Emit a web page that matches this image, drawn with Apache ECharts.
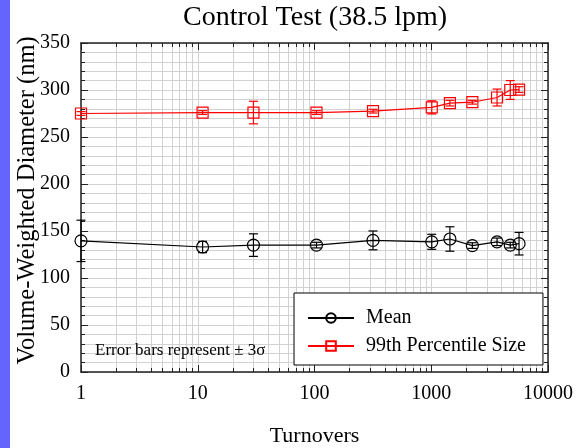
<!DOCTYPE html>
<html>
<head>
<meta charset="utf-8">
<script src="https://cdn.jsdelivr.net/npm/echarts@6/dist/echarts.min.js"></script>
<style>
  html, body { margin: 0; padding: 0; background: #fff; }
  #chart { width: 577px; height: 448px; }
</style>
</head>
<body>
<div id="chart"></div>
<script>
// values
const turnovers = [1, 11, 30, 104, 317, 1010, 1445, 2250, 3660, 4750, 5650];
const meanSize = [139.5, 133, 135, 135, 140, 138.5, 141.5, 134.5, 138.5, 135, 136.5];
const meanErr = [22, 6, 12, 3, 10, 8, 13, 3, 4, 3, 12];
const p99Size = [275, 276, 276, 276, 277.5, 281.5, 286, 287, 292, 300, 300.5];
const p99Err = [2, 2, 12, 2, 2, 7, 3, 2, 9, 10, 3];
const xTicks = [1, 10, 100, 1000, 10000];

const FONT = "Liberation Serif";

const chart = echarts.init(document.getElementById("chart"));

function pairs(ys) {
    return turnovers.map((t, i) => [t, ys[i]]);
}
function errRows(ys, es) {
    return turnovers.map((t, i) => [t, ys[i] - es[i], ys[i] + es[i]]);
}

// error bar drawn through the axis scales
function errorBar(color) {
    return function (params, api) {
        const x = api.value(0);
        const lo = api.coord([x, api.value(1)]);
        const hi = api.coord([x, api.value(2)]);
        const w = 4.5;
        const style = { stroke: color, lineWidth: 1.2 };
        return {
            type: "group",
            children: [
                { type: "line", shape: { x1: lo[0], y1: lo[1], x2: hi[0], y2: hi[1] }, style: style },
                { type: "line", shape: { x1: lo[0] - w, y1: lo[1], x2: lo[0] + w, y2: lo[1] }, style: style },
                { type: "line", shape: { x1: hi[0] - w, y1: hi[1], x2: hi[0] + w, y2: hi[1] }, style: style }
            ]
        };
    };
}

const gridLine = { show: true, lineStyle: { color: "#d2d2d2", width: 1 } };

function xAxisDef(pos, showLabels) {
    return {
        type: "log",
        logBase: 10,
        min: xTicks[0],
        max: xTicks[xTicks.length - 1],
        position: pos,
        axisLine: { show: true, onZero: false, lineStyle: { color: "#222", width: 1.5 } },
        axisTick: { show: true, inside: true, length: 7, lineStyle: { color: "#222" } },
        minorTick: { show: true, splitNumber: 9, length: 4, lineStyle: { color: "#222" } },
        splitLine: showLabels ? gridLine : { show: false },
        minorSplitLine: showLabels ? gridLine : { show: false },
        axisLabel: {
            show: showLabels, color: "#000", fontFamily: FONT, fontSize: 20, margin: 12,
            formatter: (v) => String(v)
        },
        name: showLabels ? "Turnovers" : "",
        nameLocation: "middle",
        nameGap: 53,
        nameMoveOverlap: false,
        nameTextStyle: { color: "#000", fontFamily: FONT, fontSize: 22 }
    };
}

function yAxisDef(pos, showLabels) {
    return {
        type: "value",
        min: 0,
        max: 350,
        interval: 50,
        position: pos,
        axisLine: { show: true, onZero: false, lineStyle: { color: "#222", width: 1.5 } },
        axisTick: { show: true, inside: true, length: 7, lineStyle: { color: "#222" } },
        minorTick: { show: true, splitNumber: 5, length: 4, lineStyle: { color: "#222" } },
        splitLine: showLabels ? gridLine : { show: false },
        minorSplitLine: showLabels ? gridLine : { show: false },
        axisLabel: { show: showLabels, color: "#000", fontFamily: FONT, fontSize: 20, margin: 11 },
        name: showLabels ? "Volume-Weighted Diameter (nm)" : "",
        nameLocation: "middle",
        nameGap: 41,
        nameMoveOverlap: false,
        nameTextStyle: { color: "#000", fontFamily: FONT, fontSize: 24.5, padding: [0, 0, 0, 14] }
    };
}

const option = {
    backgroundColor: "#fff",
    animation: false,
    title: {
        text: "Control Test (38.5 lpm)",
        left: 183,
        top: 4,
        padding: 0,
        textStyle: { color: "#000", fontFamily: FONT, fontSize: 28, fontWeight: "normal" }
    },
    grid: { left: 81, right: 29, top: 43, bottom: 76, outerBoundsMode: "none" },
    legend: {
        data: ["Mean", "99th Percentile Size"],
        orient: "vertical",
        left: 294,
        top: 293,
        padding: [15, 17, 9, 13],
        itemWidth: 46,
        itemHeight: 12,
        itemGap: 8,
        backgroundColor: "#fff",
        borderColor: "#000",
        borderWidth: 1,
        borderRadius: 0,
        textStyle: { color: "#000", fontFamily: FONT, fontSize: 20, padding: [0, 0, 0, 7] }
    },
    xAxis: [xAxisDef("bottom", true), xAxisDef("top", false)],
    yAxis: [yAxisDef("left", true), yAxisDef("right", false)],
    graphic: [
        { type: "rect", left: 0, top: 0, shape: { width: 10, height: 448 }, style: { fill: "#6464ff" }, z: 100 },
        {
            type: "text",
            x: 95,
            y: 351,
            style: {
                text: "Error bars represent \u00b1 3\u03c3",
                fill: "#000",
                font: "17px '" + FONT + "'",
                textVerticalAlign: "middle"
            },
            z: 100
        }
    ],
    series: [
        {
            name: "Mean",
            type: "line",
            data: pairs(meanSize),
            symbol: "circle",
            symbolSize: 12,
            lineStyle: { color: "#000", width: 1.2 },
            itemStyle: { color: "rgba(0,0,0,0)", borderColor: "#000", borderWidth: 1.2 },
            z: 3
        },
        {
            name: "99th Percentile Size",
            type: "line",
            data: pairs(p99Size),
            symbol: "rect",
            symbolSize: 11,
            lineStyle: { color: "#ff0000", width: 1.2 },
            itemStyle: { color: "rgba(0,0,0,0)", borderColor: "#ff0000", borderWidth: 1.2 },
            z: 3
        },
        {
            type: "custom",
            renderItem: errorBar("#000"),
            encode: { x: 0, y: [1, 2] },
            data: errRows(meanSize, meanErr),
            z: 4
        },
        {
            type: "custom",
            renderItem: errorBar("#ff0000"),
            encode: { x: 0, y: [1, 2] },
            data: errRows(p99Size, p99Err),
            z: 4
        }
    ]
};

chart.setOption(option);
</script>
</body>
</html>
